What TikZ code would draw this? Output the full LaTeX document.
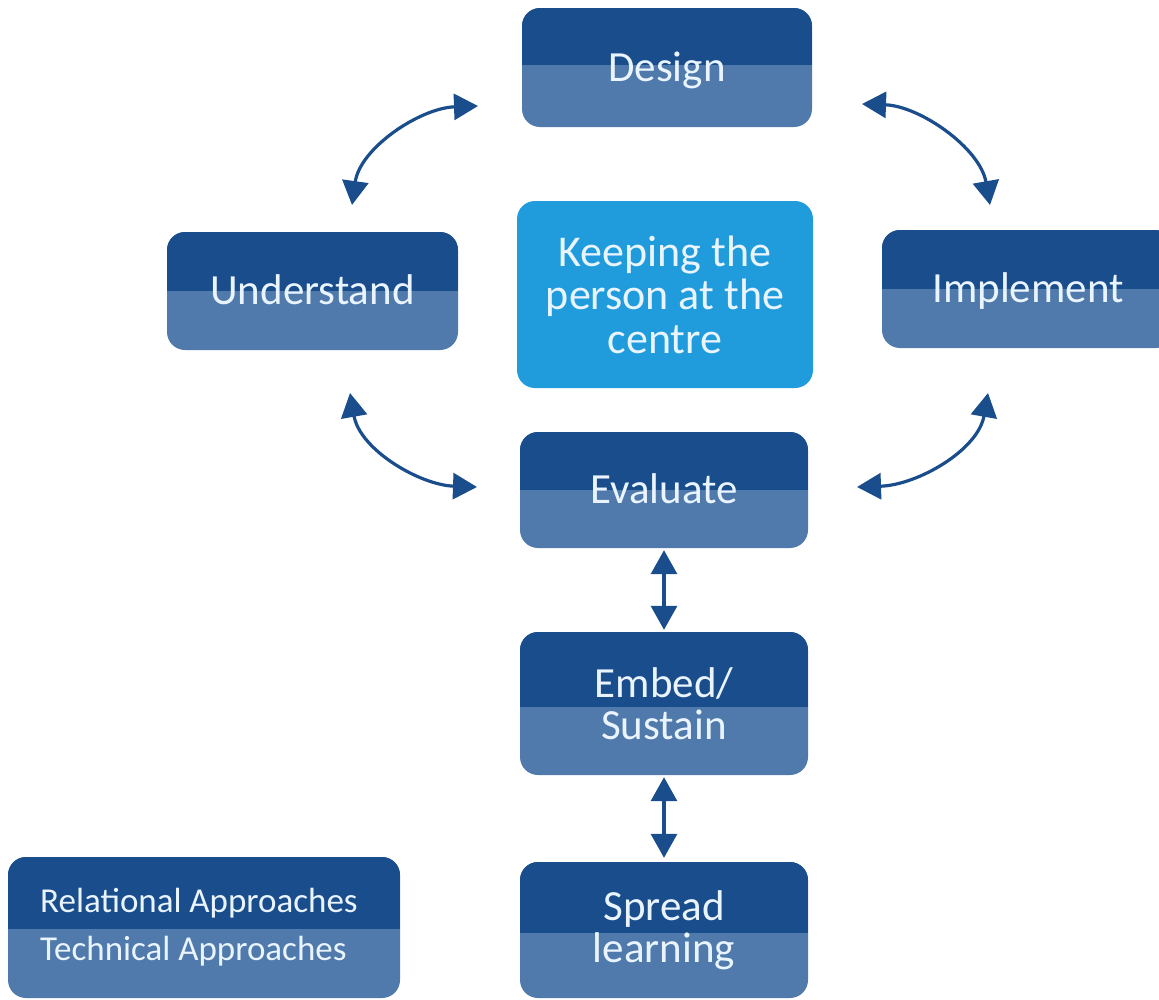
\documentclass[tikz,border=0pt]{standalone}
\usepackage{fontspec}
\setmainfont{Carlito}
\usetikzlibrary{arrows.meta}
\definecolor{boxdark}{RGB}{26,77,140}
\definecolor{boxlight}{RGB}{79,122,171}
\definecolor{centrecol}{RGB}{32,156,220}
\definecolor{txtcol}{RGB}{234,244,255}
\definecolor{arrowcol}{RGB}{26,77,140}
\tikzset{
  stage/.style={rounded corners=18pt, inner sep=0pt, fill=boxlight,
    text=txtcol, align=center, font=\fontsize{43}{42}\selectfont,
    path picture={\fill[boxdark, sharp corners] (path picture bounding box.north west)
      rectangle ([yshift=#1]path picture bounding box.east);}},
  stage/.default=0pt,
  oneline/.style={text height=27.5pt, text depth=0pt},
  centrebox/.style={rounded corners=18pt, inner sep=0pt, fill=centrecol,
    text=txtcol, align=center, font=\fontsize{44}{43.5}\selectfont},
  legendtext/.style={text=txtcol, inner sep=0pt, anchor=base west,
    font=\fontsize{35}{40}\selectfont},
  link/.style={draw=arrowcol, line width=3.2pt,
    {Triangle[length=24pt,width=26pt]}-{Triangle[length=24pt,width=26pt]}}
}
\begin{document}
\begin{tikzpicture}[x=1pt,y=-1pt]
\useasboundingbox (0,0) rectangle (1159,999);
\clip (0,0) rectangle (1159,999);

\node[stage=2.5pt, oneline, minimum width=290pt, minimum height=119pt] (design) at (667,67.5) {Design};
\node[stage, oneline, minimum width=291pt, minimum height=118pt] (understand) at (312.5,291) {Understand};
\node[stage, oneline, minimum width=292pt, minimum height=118pt] (implement) at (1028,289) {Implement};
\node[centrebox, minimum width=296pt, minimum height=187pt] (centre) at (665,294.5) {Keeping the\\person at the\\centre};
\node[stage, oneline, minimum width=288pt, minimum height=116pt] (evaluate) at (664,490) {Evaluate};
\node[stage=-3.5pt, minimum width=288pt, minimum height=143pt] (embed) at (664,703.5) {Embed/\\Sustain};
\node[stage=-3pt, minimum width=288pt, minimum height=136pt] (spread) at (664,930) {Spread\\learning};

\node[stage=-1.5pt, minimum width=392pt, minimum height=141pt] (legend) at (204,927.5) {};
\node[legendtext] (relational) at (40,912) {Relational Approaches};
\node[legendtext] (technical) at (40,960) {Technical Approaches};

\coordinate (ud1) at (352,205);
\coordinate (ud2) at (478,106);
\coordinate (di1) at (862,104);
\coordinate (di2) at (990,205);
\coordinate (ue1) at (350,393);
\coordinate (ue2) at (477,487);
\coordinate (ie1) at (988,393);
\coordinate (ie2) at (857,487);

\draw[link] (ud1) .. controls (360,148) and (420,108) .. (ud2);
\draw[link] (di1) .. controls (920,106) and (980,148) .. (di2);
\draw[link] (ue1) .. controls (360,450) and (420,485) .. (ue2);
\draw[link] (ie1) .. controls (978,450) and (918,485) .. (ie2);

\draw[link] ([yshift=-2pt]evaluate.south) -- ([yshift=2pt]embed.north);
\draw[link] ([yshift=-2pt]embed.south) -- ([yshift=4pt]spread.north);
\end{tikzpicture}
\end{document}
